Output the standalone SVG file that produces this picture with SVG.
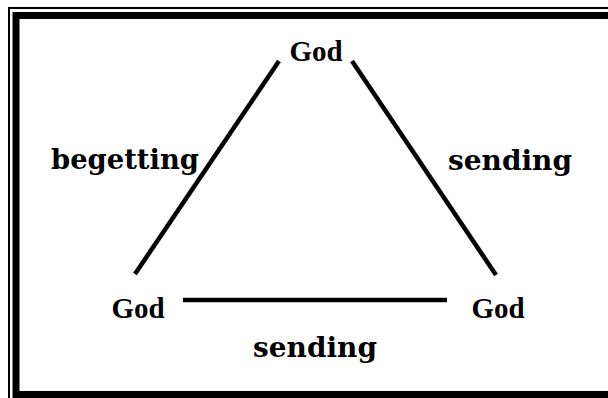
<svg xmlns="http://www.w3.org/2000/svg" width="608" height="398" viewBox="0 0 608 398">
<style>
.frame{fill:none;stroke:#000}
.edge{stroke:#000;stroke-width:4.5;stroke-linecap:butt}
.god{font-family:"Liberation Serif","DejaVu Serif",serif;font-weight:bold;font-size:29px;fill:#000;text-anchor:middle}
.lbl{font-family:"DejaVu Serif","Liberation Serif",serif;font-weight:bold;font-size:28px;fill:#000;text-anchor:middle}
</style>
<rect width="608" height="398" fill="#fff"/>
<g id="frame">
<rect class="frame" x="9" y="8" width="640" height="440" stroke-width="2"/>
<rect class="frame" x="16" y="15.5" width="620" height="379" stroke-width="7"/>
</g>
<g id="connectors">
<line class="edge" x1="279" y1="61" x2="135" y2="274"/>
<line class="edge" x1="352" y1="61" x2="496" y2="275"/>
<line class="edge" x1="183" y1="300" x2="447" y2="300"/>
</g>
<g id="node-top"><text class="god" x="316" y="61">God</text></g>
<g id="node-left"><text class="god" x="138" y="318">God</text></g>
<g id="node-right"><text class="god" x="498" y="318">God</text></g>
<g id="label-begetting"><text class="lbl" x="125" y="169" textLength="148" lengthAdjust="spacingAndGlyphs">begetting</text></g>
<g id="label-sending-right"><text class="lbl" x="510" y="170" textLength="124" lengthAdjust="spacingAndGlyphs">sending</text></g>
<g id="label-sending-bottom"><text class="lbl" x="315" y="357" textLength="124" lengthAdjust="spacingAndGlyphs">sending</text></g>
</svg>
